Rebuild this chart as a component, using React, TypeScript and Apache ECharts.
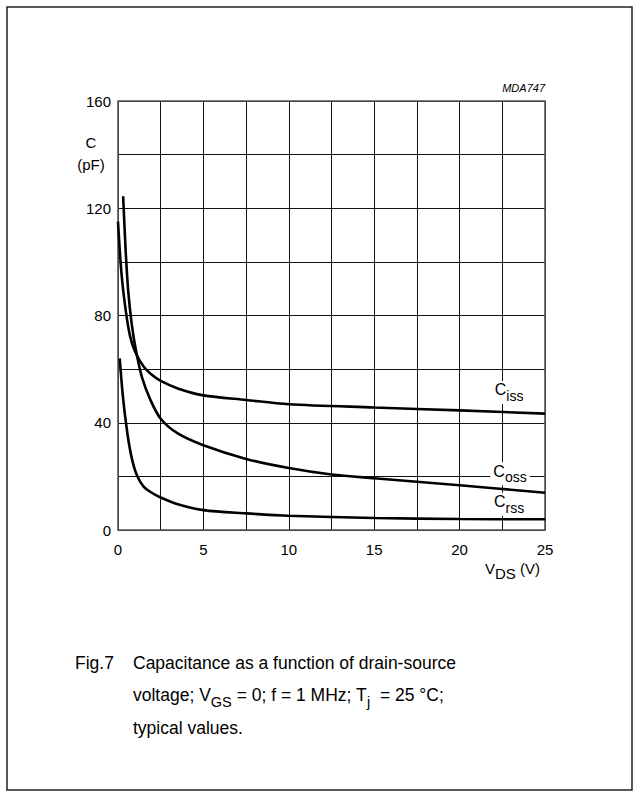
import React, { useEffect, useRef } from "react";
import * as echarts from "echarts";

const FONT = "'Liberation Sans', Arial, sans-serif";

// Ciss
const cissV = [0, 0.2, 0.45, 0.7, 1.0, 1.5, 2, 2.5, 3.5, 5, 7.5, 10, 15, 20, 25];
const cissC = [115, 96, 82, 72.5, 66.5, 61, 57.8, 55.6, 52.8, 50.2, 48.5, 46.9, 45.7, 44.6, 43.4];
// Coss
const cossV = [0.3, 0.45, 0.6, 0.8, 1.05, 1.4, 1.9, 2.5, 3.5, 5, 7.5, 10, 12.5, 15, 20, 25];
const cossC = [124.5, 104, 89, 77, 67, 57, 48.5, 41.5, 36, 31.6, 26.5, 23.1, 20.7, 19.3, 16.7, 13.9];
// Crss
const crssV = [0.1, 0.3, 0.55, 0.8, 1.1, 1.5, 2, 2.5, 3.5, 5, 7.5, 10, 15, 20, 25];
const crssC = [64, 49, 36, 27, 20.5, 16.2, 13.8, 12.1, 9.6, 7.4, 6.2, 5.3, 4.5, 4.1, 4.0];

const xTicksShown = [0, 5, 10, 15, 20, 25];
const yTicksShown = [0, 40, 80, 120, 160];

const curveLabels = [
  { name: "C", sub: "iss", at: [22.9, 51.3] },
  { name: "C", sub: "oss", at: [22.95, 21.0] },
  { name: "C", sub: "rss", at: [22.9, 9.6] },
];

const zip = (a: number[], b: number[]) => a.map((v, i) => [v, b[i]]);

export default function App() {
  const ref = useRef<HTMLDivElement>(null);
  useEffect(() => {
    document.body.style.margin = "0";
    const chart = echarts.init(ref.current!, null, { renderer: "svg" });
    const lineStyle = { color: "#000", width: 2.6 };
    const mk = (name: string, data: number[][], lbl: any) => ({
      type: "line",
      name,
      data,
      showSymbol: false,
      smooth: 0.3,
      lineStyle,
      z: 3,
      markPoint: {
        symbol: "rect",
        symbolSize: 1,
        itemStyle: { color: "rgba(0,0,0,0)" },
        z: 5,
        data: [
          {
            coord: lbl.at,
            label: {
              show: true,
              position: "inside",
              formatter: `{c|${lbl.name}}{s|${lbl.sub}}`,
              backgroundColor: "#fff",
              padding: [1, 3, 1, 3],
              rich: {
                c: { fontSize: 16, fontFamily: FONT, color: "#000", verticalAlign: "top", lineHeight: 21, backgroundColor: "#fff" },
                s: { fontSize: 14, fontFamily: FONT, color: "#000", verticalAlign: "bottom", backgroundColor: "#fff" },
              },
            },
          },
        ],
      },
    });
    chart.setOption({
      animation: false,
      backgroundColor: "#fff",
      grid: { left: 118, top: 101, right: 95, bottom: 267, show: true, borderColor: "#555", borderWidth: 1.6, z: 2 },
      xAxis: {
        type: "value",
        min: 0,
        max: 25,
        interval: 2.5,
        axisLine: { show: false },
        axisTick: { show: false },
        splitLine: { show: true, lineStyle: { color: "#111", width: 1 } },
        axisLabel: {
          color: "#000",
          fontSize: 15,
          fontFamily: FONT,
          margin: 12,
          formatter: (v: number) => (xTicksShown.includes(v) ? String(v) : ""),
        },
      },
      yAxis: {
        type: "value",
        min: 0,
        max: 160,
        interval: 20,
        axisLine: { show: false },
        axisTick: { show: false },
        splitLine: { show: true, lineStyle: { color: "#111", width: 1 } },
        axisLabel: {
          color: "#000",
          fontSize: 15,
          fontFamily: FONT,
          margin: 7,
          formatter: (v: number) => (yTicksShown.includes(v) ? String(v) : ""),
        },
      },
      series: [
        mk("Ciss", zip(cissV, cissC), curveLabels[0]),
        mk("Coss", zip(cossV, cossC), curveLabels[1]),
        mk("Crss", zip(crssV, crssC), curveLabels[2]),
      ],
      graphic: [
        {
          type: "rect",
          shape: { x: 7, y: 7, width: 625, height: 783 },
          style: { fill: "none", stroke: "#222", lineWidth: 1.5 },
          silent: true,
        },
        {
          type: "text",
          x: 545,
          y: 82,
          style: { text: "MDA747", font: `italic 11px ${FONT}`, fill: "#000", textAlign: "right" },
        },
        {
          type: "text",
          x: 91,
          y: 135,
          style: { text: "C", font: `15px ${FONT}`, fill: "#000", textAlign: "center" },
        },
        {
          type: "text",
          x: 91,
          y: 157,
          style: { text: "(pF)", font: `15px ${FONT}`, fill: "#000", textAlign: "center" },
        },
        {
          type: "text",
          x: 540,
          y: 561,
          style: {
            text: "{v|V}{s|DS}{v| (V)}",
            textAlign: "right",
            rich: {
              v: { fontSize: 15, fontFamily: FONT, fill: "#000", verticalAlign: "top", lineHeight: 20 },
              s: { fontSize: 15, fontFamily: FONT, fill: "#000", verticalAlign: "bottom" },
            },
          },
        },
        {
          type: "text",
          x: 75,
          y: 654,
          style: { text: "Fig.7", font: `17.5px ${FONT}`, fill: "#000" },
        },
        {
          type: "text",
          x: 133,
          y: 654,
          style: { text: "Capacitance as a function of drain-source", font: `17.5px ${FONT}`, fill: "#000" },
        },
        {
          type: "text",
          x: 133,
          y: 686,
          style: {
            text: "{n|voltage; V}{s|GS}{n| = 0; f = 1 MHz; T}{s|j}{n|  = 25 °C;}",
            rich: {
              n: { fontSize: 17.5, fontFamily: FONT, fill: "#000", verticalAlign: "top", lineHeight: 23 },
              s: { fontSize: 14.5, fontFamily: FONT, fill: "#000", verticalAlign: "bottom" },
            },
          },
        },
        {
          type: "text",
          x: 133,
          y: 719,
          style: { text: "typical values.", font: `17.5px ${FONT}`, fill: "#000" },
        },
      ],
    });
    return () => chart.dispose();
  }, []);
  return <div ref={ref} style={{ width: 640, height: 797 }} />;
}
